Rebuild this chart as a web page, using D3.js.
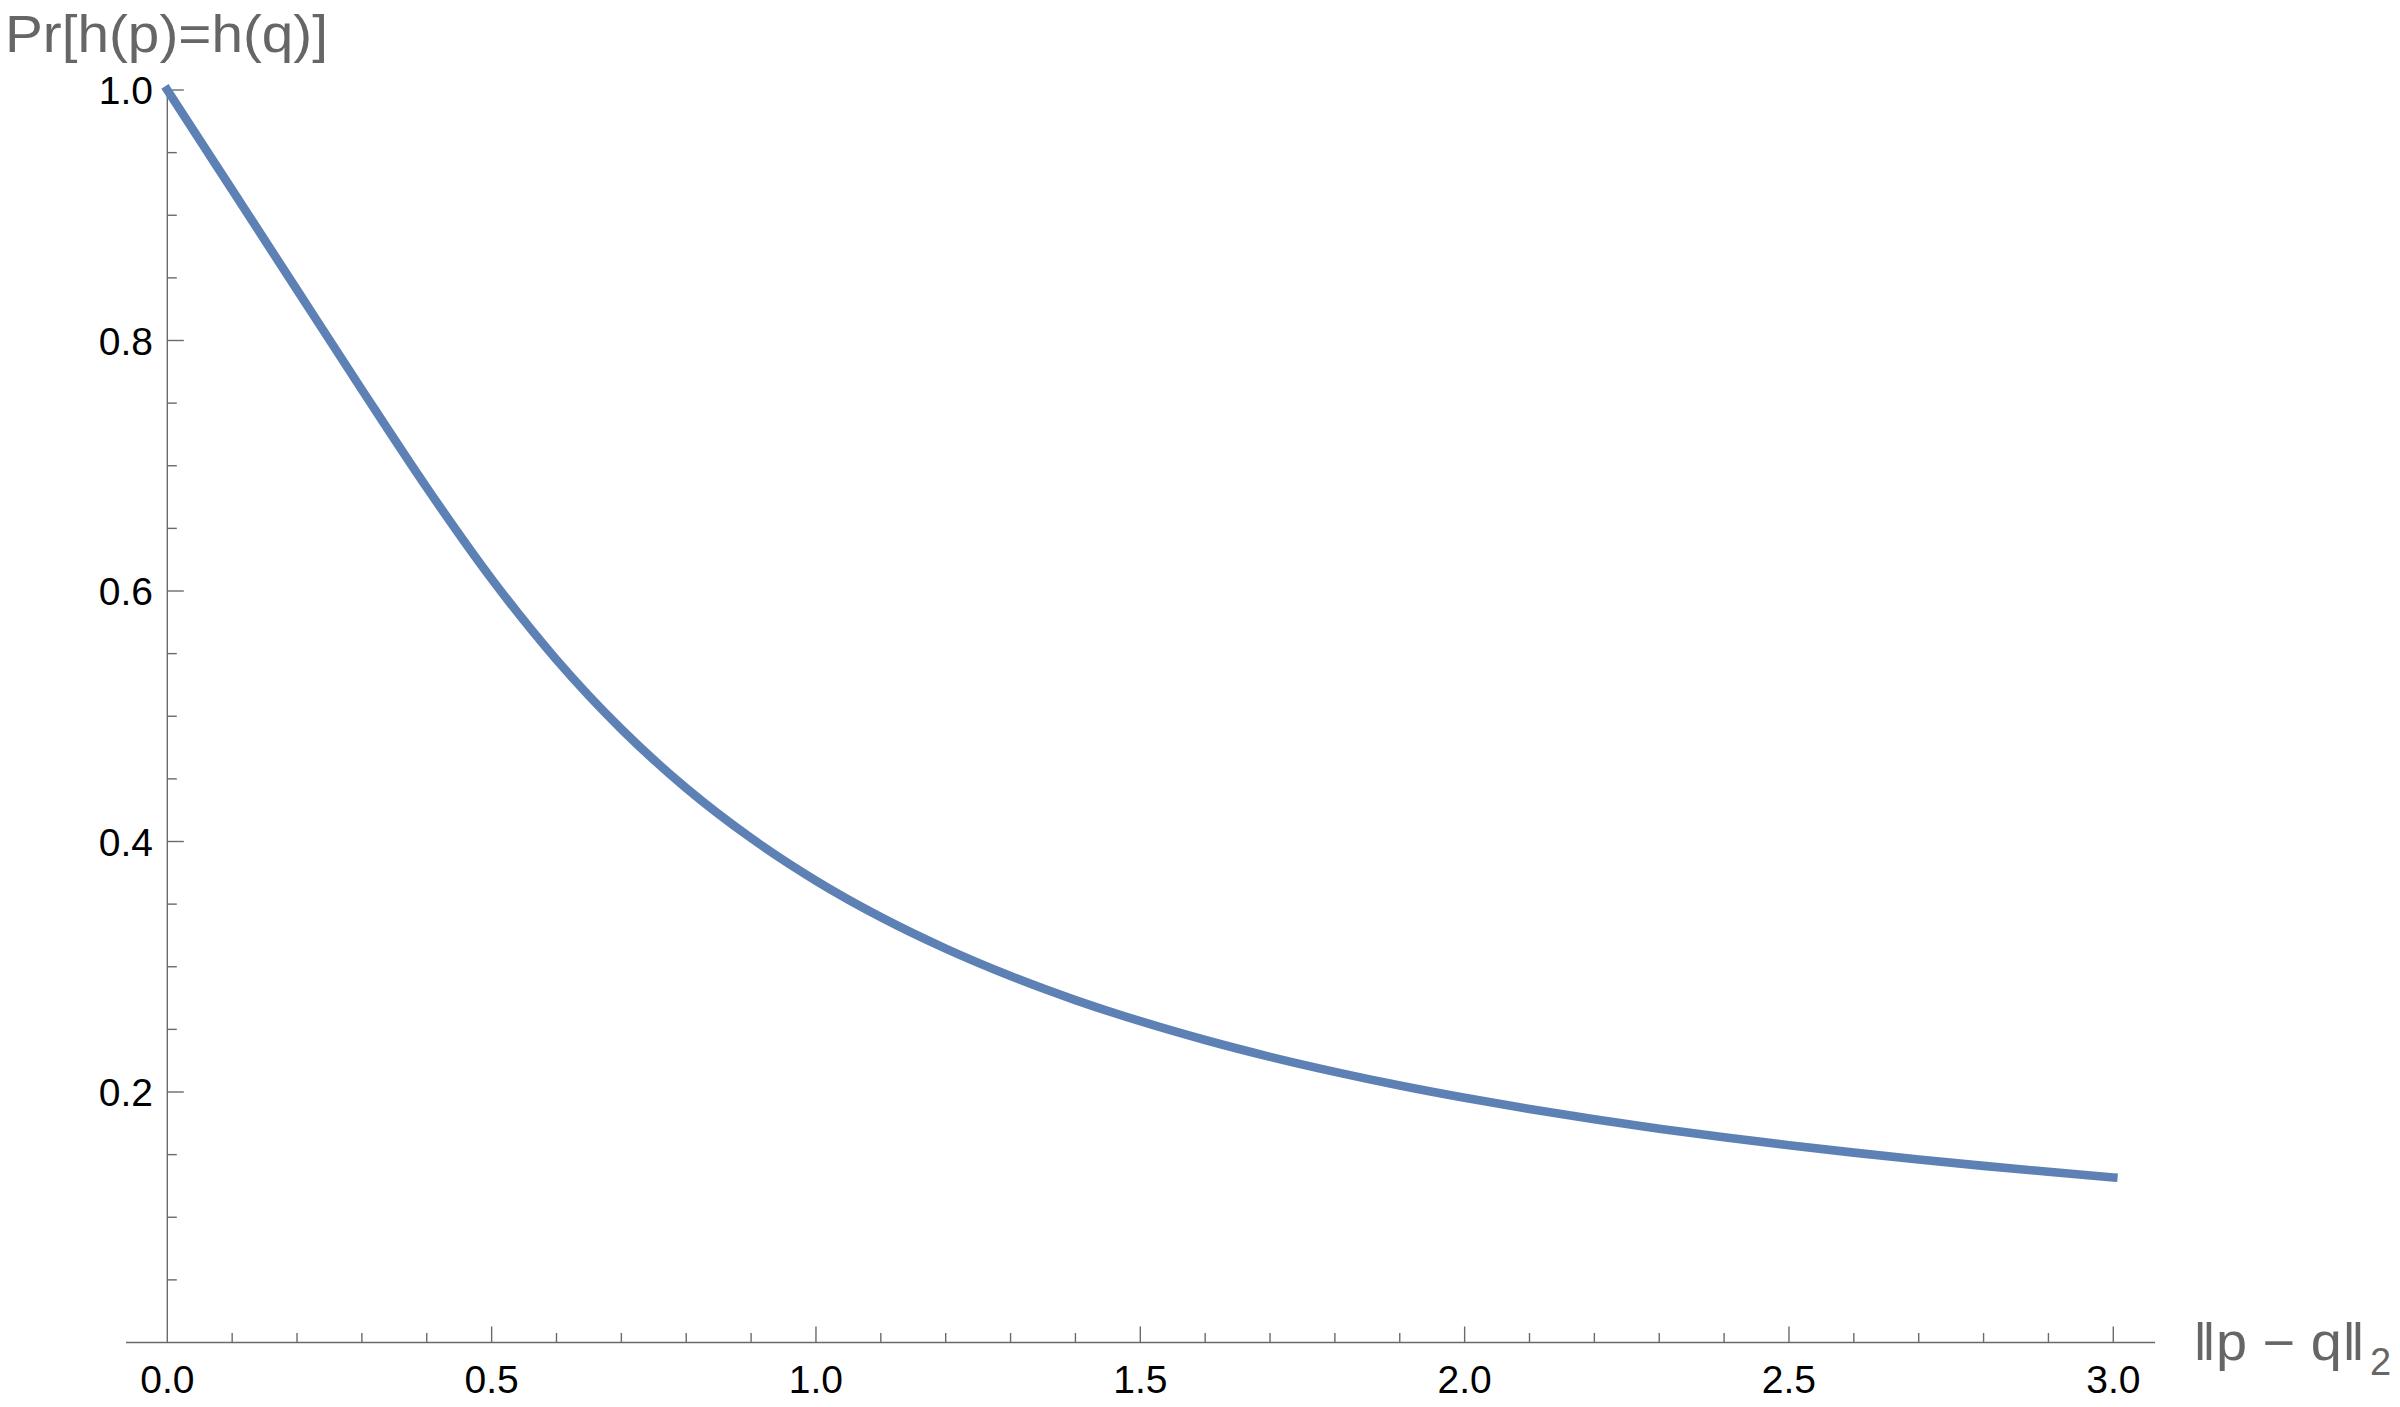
<!DOCTYPE html>
<html>
<head>
<meta charset="utf-8">
<script src="https://cdn.jsdelivr.net/npm/d3@7"></script>
<style>
  html, body { margin: 0; padding: 0; background: #fff; }
  svg { display: block; }
</style>
</head>
<body>
<svg id="chart" width="2400" height="1407"></svg>
<script>
// Data
const distances = [0.0, 0.1, 0.2, 0.3, 0.4, 0.5, 0.6, 0.7, 0.8, 0.9, 1.0,
                   1.1, 1.2, 1.3, 1.4, 1.5, 1.6, 1.7, 1.8, 1.9, 2.0,
                   2.1, 2.2, 2.3, 2.4, 2.5, 2.6, 2.7, 2.8, 2.9, 3.0];
const probabilities = [1.0000, 0.9202, 0.8404, 0.7607, 0.6825, 0.6096, 0.5451, 0.4897, 0.4426, 0.4027, 0.3687,
                       0.3396, 0.3145, 0.2926, 0.2734, 0.2565, 0.2415, 0.2281, 0.2161, 0.2052, 0.1954,
                       0.1864, 0.1782, 0.1707, 0.1639, 0.1575, 0.1516, 0.1461, 0.1410, 0.1363, 0.1318];
const xMajorTicks = [0.0, 0.5, 1.0, 1.5, 2.0, 2.5, 3.0];
const xMinorTicks = [0.1,0.2,0.3,0.4,0.6,0.7,0.8,0.9,1.1,1.2,1.3,1.4,1.6,1.7,1.8,1.9,2.1,2.2,2.3,2.4,2.6,2.7,2.8,2.9];
const yMajorTicks = [0.2, 0.4, 0.6, 0.8, 1.0];
const yMinorTicks = [0.05,0.1,0.15,0.25,0.3,0.35,0.45,0.5,0.55,0.65,0.7,0.75,0.85,0.9,0.95];
const yTitle = "Pr[h(p)=h(q)]";

const svg = d3.select("#chart");
const x = d3.scaleLinear().domain([0, 3]).range([167.3, 2113.3]);
const y = d3.scaleLinear().domain([0, 1]).range([1342.5, 90]);

const axisColor = "#6a6a6a";
const font = "'Liberation Sans', Arial, Helvetica, sans-serif";

// x axis line
svg.append("line")
  .attr("x1", 126).attr("x2", 2155)
  .attr("y1", y(0)).attr("y2", y(0))
  .attr("stroke", axisColor).attr("stroke-width", 1.4);
// y axis line
svg.append("line")
  .attr("x1", x(0)).attr("x2", x(0))
  .attr("y1", y(0)).attr("y2", y(1))
  .attr("stroke", axisColor).attr("stroke-width", 1.4);

// x ticks
svg.selectAll(".xmaj").data(xMajorTicks.filter(d => d > 0)).enter().append("line")
  .attr("x1", d => x(d)).attr("x2", d => x(d))
  .attr("y1", y(0)).attr("y2", y(0) - 16)
  .attr("stroke", axisColor).attr("stroke-width", 1.4);
svg.selectAll(".xmin").data(xMinorTicks).enter().append("line")
  .attr("x1", d => x(d)).attr("x2", d => x(d))
  .attr("y1", y(0)).attr("y2", y(0) - 9.5)
  .attr("stroke", axisColor).attr("stroke-width", 1.4);
svg.selectAll(".xlab").data(xMajorTicks).enter().append("text")
  .attr("x", d => x(d)).attr("y", 1393)
  .attr("text-anchor", "middle")
  .attr("font-family", font).attr("font-size", 39).attr("fill", "#000")
  .text(d => d.toFixed(1));

// y ticks
svg.selectAll(".ymaj").data(yMajorTicks).enter().append("line")
  .attr("x1", x(0)).attr("x2", x(0) + 16.5)
  .attr("y1", d => y(d)).attr("y2", d => y(d))
  .attr("stroke", axisColor).attr("stroke-width", 1.4);
svg.selectAll(".ymin").data(yMinorTicks).enter().append("line")
  .attr("x1", x(0)).attr("x2", x(0) + 9.5)
  .attr("y1", d => y(d)).attr("y2", d => y(d))
  .attr("stroke", axisColor).attr("stroke-width", 1.4);
svg.selectAll(".ylab").data(yMajorTicks).enter().append("text")
  .attr("x", 153).attr("y", d => y(d) + 14)
  .attr("text-anchor", "end")
  .attr("font-family", font).attr("font-size", 39).attr("fill", "#000")
  .text(d => d.toFixed(1));

// curve
const pts = distances.map((d, i) => [d, probabilities[i]]);
const line = d3.line().x(d => x(d[0])).y(d => y(d[1])).curve(d3.curveMonotoneX);
svg.append("path")
  .attr("d", line(pts))
  .attr("fill", "none")
  .attr("stroke", "#5e81b5")
  .attr("stroke-width", 8.6)
  .attr("stroke-linecap", "square")
  .attr("stroke-linejoin", "round");

// y title
svg.append("text")
  .attr("x", 5).attr("y", 52)
  .attr("font-family", font).attr("font-size", 51).attr("fill", "#666")
  .attr("textLength", 323).attr("lengthAdjust", "spacingAndGlyphs")
  .text(yTitle);

// x title
const xt = svg.append("text")
  .attr("font-family", font).attr("font-size", 51).attr("fill", "#666");
xt.append("tspan").attr("x", 2193).attr("y", 1360)
  .attr("textLength", 172).attr("lengthAdjust", "spacingAndGlyphs")
  .text("\u2016p \u2212 q\u2016");
xt.append("tspan").attr("x", 2370).attr("y", 1375)
  .attr("font-size", 38).text("2");
</script>
</body>
</html>
